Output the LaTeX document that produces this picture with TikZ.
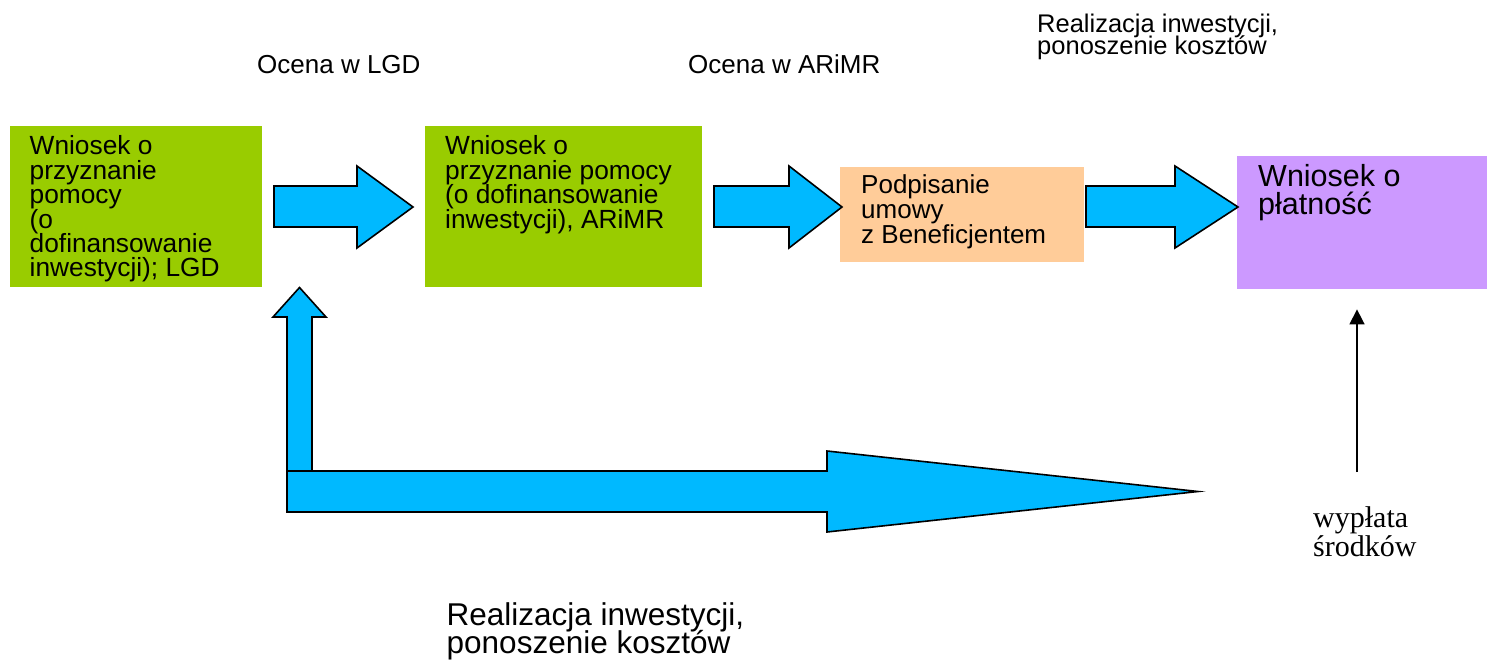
\documentclass[tikz,border=0pt]{standalone}
\usepackage{fontspec}
\setmainfont{Liberation Sans}
\newfontfamily\timesfont{Liberation Serif}
\usetikzlibrary{arrows.meta,calc}
\definecolor{boxgreen}{HTML}{99CC00}
\definecolor{boxorange}{HTML}{FFCC99}
\definecolor{boxpurple}{HTML}{CC99FF}
\definecolor{arrowblue}{HTML}{00B9FF}
\newcommand\mylines[2]{\vtop{\baselineskip=#1\lineskiplimit=-\maxdimen\relax #2}}
\tikzset{
  boxnode/.style={rectangle, draw=none, inner sep=0pt, anchor=north west},
  txt/.style={inner sep=0pt, anchor=base west, text=black},
  blockarrow/.style={fill=arrowblue, draw=black, line width=1.6pt, line join=miter},
  thinarrow/.style={draw=black, line width=1.5pt, -{Triangle[length=15pt,width=15pt]}}
}
\begin{document}
\begin{tikzpicture}[x=1pt,y=-1pt]
\useasboundingbox[fill=white] (0,0) rectangle (1487,660);

% boxes
\node[boxnode, fill=boxgreen, minimum width=252pt, minimum height=161pt] (b1) at (10,126) {};
\node[boxnode, fill=boxgreen, minimum width=277pt, minimum height=161pt] (b2) at (425,126) {};
\node[boxnode, fill=boxorange, minimum width=244pt, minimum height=95pt] (b3) at (840,167) {};
\node[boxnode, fill=boxpurple, minimum width=250pt, minimum height=133pt] (b4) at (1237,156) {};

% box texts
\node[txt, font=\fontsize{26.3}{24.4}\selectfont] (t1) at (29.5,155) {\mylines{24.4pt}{\hbox{Wniosek o}\hbox{przyznanie}\hbox{pomocy}\hbox{(o}\hbox{dofinansowanie}\hbox{inwestycji); LGD}}};
\node[txt, font=\fontsize{26.3}{24.4}\selectfont] (t2) at (445,155) {\mylines{24.4pt}{\hbox{Wniosek o}\hbox{przyznanie pomocy}\hbox{(o dofinansowanie}\hbox{inwestycji), ARiMR}}};
\node[txt, font=\fontsize{26}{25}\selectfont] (t3) at (861,194) {\mylines{25pt}{\hbox{Podpisanie}\hbox{umowy}\hbox{z Beneficjentem}}};
\node[txt, font=\fontsize{30.5}{28}\selectfont] (t4) at (1258,187) {\mylines{28pt}{\hbox{Wniosek o}\hbox{płatność}}};

% top labels
\node[txt, font=\fontsize{26}{24}\selectfont] (l1) at (257,74) {Ocena w LGD};
\node[txt, font=\fontsize{26}{24}\selectfont] (l2) at (688,74) {Ocena w ARiMR};
\node[txt, font=\fontsize{25.5}{22}\selectfont] (l3) at (1037,33) {\mylines{22pt}{\hbox{Realizacja inwestycji,}\hbox{ponoszenie kosztów}}};

% bottom label
\node[txt, font=\fontsize{31.5}{28}\selectfont] (l4) at (446.5,625) {\mylines{28pt}{\hbox{Realizacja inwestycji,}\hbox{ponoszenie kosztów}}};

% payment label
\node[txt, font=\timesfont\fontsize{30}{29}\selectfont] (l5) at (1313,527) {\mylines{29pt}{\hbox{wypłata}\hbox{środków}}};

% block arrows between boxes
\draw[blockarrow] (274,186) -- (357,186) -- (357,166) -- (413,207) -- (357,248) -- (357,227) -- (274,227) -- cycle;
\draw[blockarrow] (714,186) -- (789,186) -- (789,166) -- (842,207) -- (789,248) -- (789,227) -- (714,227) -- cycle;
\draw[blockarrow] (1086,186) -- (1175,186) -- (1175,166) -- (1238,207) -- (1175,248) -- (1175,227) -- (1086,227) -- cycle;

% up arrow and long arrow
\draw[blockarrow] (287,472) -- (287,317) -- (273,317) -- (299.5,287.5) -- (326,317) -- (312,317) -- (312,472) -- cycle;
\draw[blockarrow] (287,471) -- (827,471) -- (827,451) -- (1198,491.5) -- (827,532) -- (827,512) -- (287,512) -- cycle;

% payment arrow
\coordinate (payfoot) at (1357,472);
\draw[thinarrow, shorten >=20pt] (payfoot) -- (payfoot |- b4.south);
\end{tikzpicture}
\end{document}
